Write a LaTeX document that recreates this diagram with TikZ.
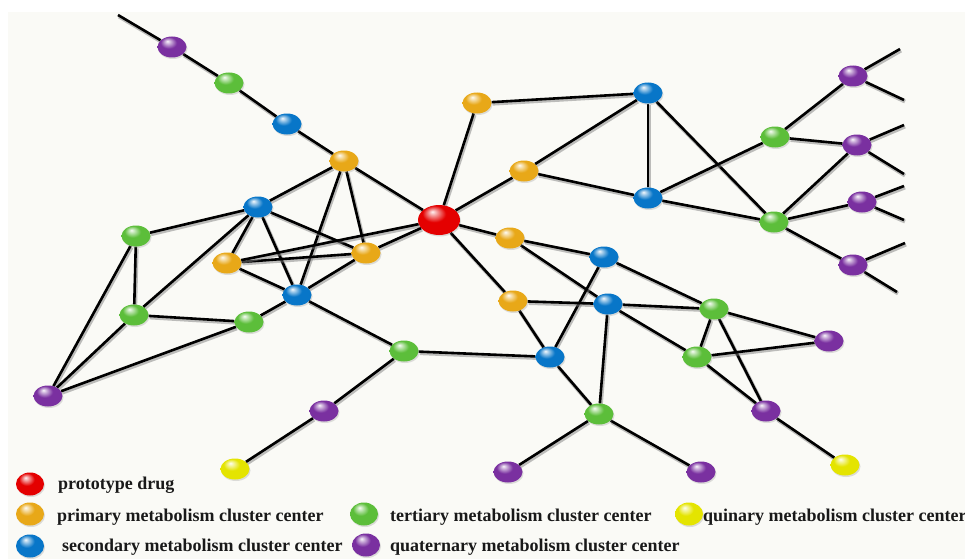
\documentclass[tikz,border=0pt]{standalone}
\usepackage{fontspec}
\setmainfont{Liberation Serif}
\usetikzlibrary{shapes.geometric,shadows}
\colorlet{mball}{red}
\pgfdeclareradialshading[mball]{glossy}{\pgfqpoint{-8bp}{14bp}}{%
 color(0bp)=(mball!5!white); color(5bp)=(mball!40!white); color(14bp)=(mball);
 color(36bp)=(mball); color(52bp)=(mball!70!black)}
\definecolor{cred}{RGB}{228,0,0}
\definecolor{corange}{RGB}{232,168,24}
\definecolor{cblue}{RGB}{8,118,200}
\definecolor{cgreen}{RGB}{92,190,58}
\definecolor{cpurple}{RGB}{122,48,160}
\definecolor{cyellow}{RGB}{228,228,0}
\definecolor{bgc}{RGB}{250,250,246}
\pgfdeclarelayer{bgl}
\pgfdeclarelayer{edges}
\pgfsetlayers{bgl,edges,main}
\tikzset{
 nd/.style={ellipse, minimum width=29pt, minimum height=21pt, inner sep=0pt,
   /utils/exec={\colorlet{mball}{#1}}, shading=glossy,
   drop shadow={opacity=0.25, shadow xshift=1pt, shadow yshift=-1.5pt}},
 big/.style={minimum width=42pt, minimum height=30pt},
 lg/.style={minimum width=28pt, minimum height=23pt},
 edge/.style={draw=black, line width=2.6pt},
 eshadow/.style={draw=gray, opacity=0.5, line width=3.8pt, transform canvas={shift={(1pt,-1.6pt)}}},
 legtext/.style={anchor=base west, inner sep=0pt, font=\fontsize{18}{20}\selectfont\bfseries, text=black!90}
}
\begin{document}
\begin{tikzpicture}[x=1pt,y=-1pt]
\useasboundingbox (0,0) rectangle (965,559);
\begin{pgfonlayer}{bgl}
\fill[white] (0,0) rectangle (965,559);
\fill[bgc] (8,12) rectangle (965,559);
\end{pgfonlayer}
% nodes
\node[nd=cpurple] (P1) at (172,47) {};
\node[nd=cgreen] (G1) at (229,83) {};
\node[nd=cblue] (B1) at (287,124) {};
\node[nd=corange] (O1) at (344,161) {};
\node[nd=cblue] (B2) at (258,207) {};
\node[nd=cgreen] (G2) at (136,236) {};
\node[nd=corange] (O2) at (227,263) {};
\node[nd=corange] (O3) at (366,253) {};
\node[nd=cblue] (B3) at (297,295) {};
\node[nd=cgreen] (G3) at (134,315) {};
\node[nd=cgreen] (G4) at (249,322) {};
\node[nd=cpurple] (P2) at (48,396) {};
\node[nd=cred,big] (R) at (439,220) {};
\node[nd=corange] (O4) at (477,103) {};
\node[nd=corange] (O5) at (524,171) {};
\node[nd=cblue] (B4) at (648,93) {};
\node[nd=cblue] (B5) at (648,198) {};
\node[nd=cgreen] (G5) at (775,137) {};
\node[nd=cgreen] (G6) at (774,222) {};
\node[nd=cpurple] (P3) at (853,76) {};
\node[nd=cpurple] (P4) at (857,145) {};
\node[nd=cpurple] (P5) at (862,202) {};
\node[nd=cpurple] (P6) at (853,265) {};
\node[nd=corange] (O6) at (510,238) {};
\node[nd=cblue] (B6) at (604,257) {};
\node[nd=corange] (O7) at (513,301) {};
\node[nd=cblue] (B7) at (608,304) {};
\node[nd=cgreen] (G7) at (714,309) {};
\node[nd=cgreen] (G8) at (697,357) {};
\node[nd=cpurple] (P7) at (829,341) {};
\node[nd=cblue] (B8) at (550,357) {};
\node[nd=cgreen] (G9) at (404,351) {};
\node[nd=cpurple] (P8) at (324,411) {};
\node[nd=cyellow] (Y1) at (235,469) {};
\node[nd=cgreen] (G10) at (599,414) {};
\node[nd=cpurple] (P9) at (508,472) {};
\node[nd=cpurple] (P10) at (701,472) {};
\node[nd=cpurple] (P11) at (766,411) {};
\node[nd=cyellow] (Y2) at (845,465) {};
% free ends
\coordinate (e0) at (118,15);
\coordinate (e1) at (900,49);
\coordinate (e2) at (904,100);
\coordinate (e3) at (904,125);
\coordinate (e4) at (904,174);
\coordinate (e5) at (904,186);
\coordinate (e6) at (904,220);
\coordinate (e7) at (905,243);
\coordinate (e8) at (897,292);
% edges
\begin{pgfonlayer}{edges}
\foreach \a/\b in {e0/P1,P1/G1,G1/B1,B1/O1,
 O1/B2,O1/R,O1/O3,O1/B3,
 B2/G2,B2/O2,B2/B3,B2/O3,B2/G3,
 G2/G3,G2/P2,G3/P2,G4/P2,G3/G4,G4/B3,
 O2/O3,O2/R,O2/B3,O3/R,O3/B3,
 B3/G9,G9/B8,G9/P8,P8/Y1,
 R/O4,R/O5,R/O6,R/O7,
 O4/B4,O5/B4,O5/B5,B4/B5,B4/G6,B5/G5,B5/G6,
 G5/P3,G5/P4,G6/P4,G6/P5,G6/P6,
 P3/e1,P3/e2,P4/e3,P4/e4,P5/e5,P5/e6,P6/e7,P6/e8,
 O6/B6,O6/B7,B7/G8,B6/G7,B6/B8,O7/B7,B7/G7,O7/B8,B8/G10,B7/G10,
 G7/G8,G7/P7,G7/P11,G8/P7,G8/P11,P11/Y2,G10/P9,G10/P10}
 {\draw[eshadow] (\a) -- (\b);
  \draw[edge] (\a) -- (\b);}
\end{pgfonlayer}
% legend
\node[nd=cred,lg] (L1) at (30,484) {};
\node[nd=corange,lg] (L2) at (30,514) {};
\node[nd=cblue,lg] (L3) at (30,546) {};
\node[nd=cgreen,lg] (L4) at (364,514) {};
\node[nd=cpurple,lg] (L5) at (366,545) {};
\node[nd=cyellow,lg] (L6) at (689,514) {};
\node[legtext] (T1) at (58,489) {prototype drug};
\node[legtext] (T2) at (57,521) {primary metabolism cluster center};
\node[legtext] (T3) at (62,551) {secondary metabolism cluster center};
\node[legtext] (T4) at (390,521) {tertiary metabolism cluster center};
\node[legtext] (T5) at (390,551) {quaternary metabolism cluster center};
\node[legtext] (T6) at (703,521) {quinary metabolism cluster center};
\end{tikzpicture}
\end{document}
